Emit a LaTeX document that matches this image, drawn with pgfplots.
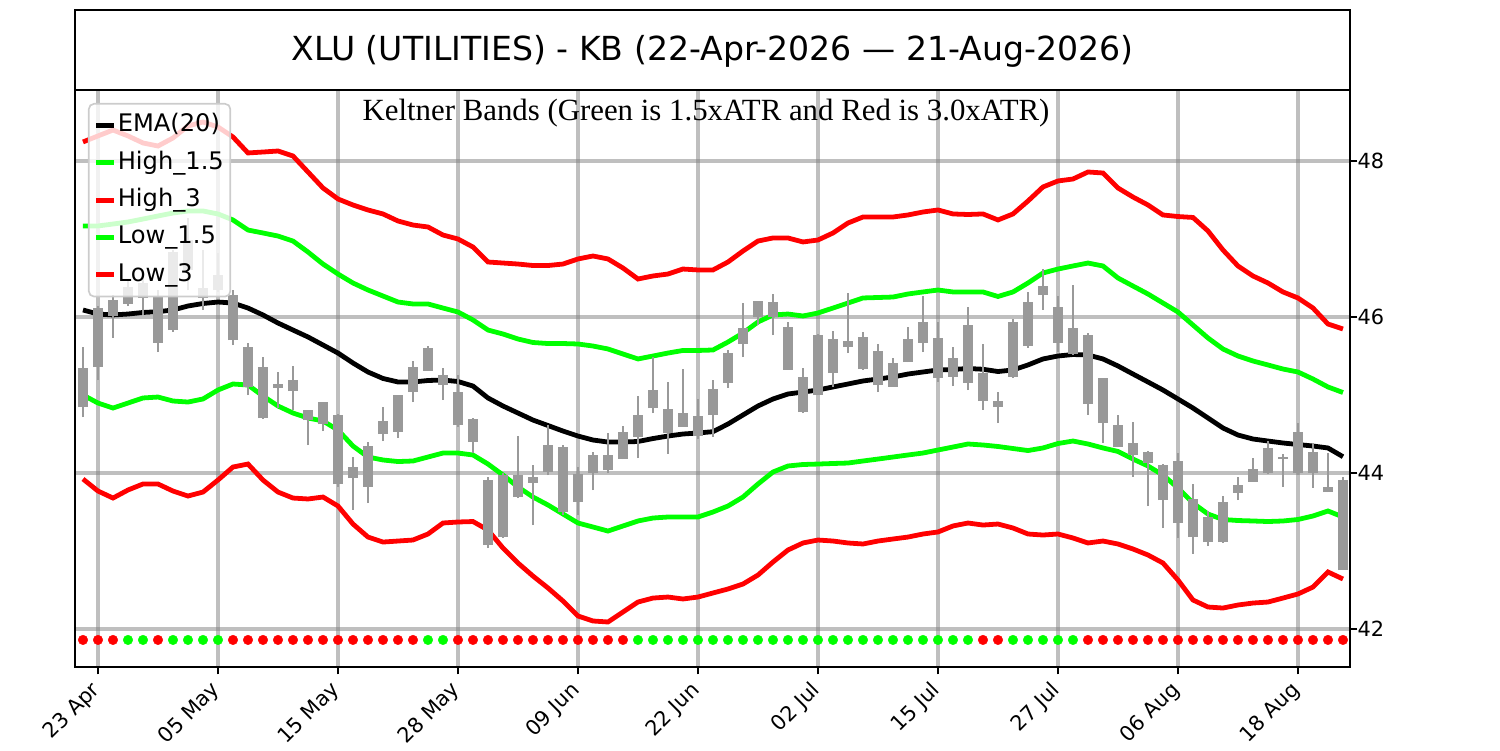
\documentclass[border=0pt]{standalone}
\usepackage{fontspec}
\setmainfont{DejaVu Sans}
\newfontfamily\serifkb{Liberation Serif}
\usepackage{pgfplots}
\usepackage{pgfplotstable}
\pgfplotsset{compat=1.18}
\definecolor{candle}{rgb}{0.6,0.6,0.6}
\definecolor{lime}{rgb}{0,1,0}
\definecolor{redd}{rgb}{1,0,0}

\pgfplotstableread{
i ema h15 h3 l15 l3
0 46.090 47.167 48.244 45.000 43.923
1 46.038 47.167 48.321 44.897 43.769
2 46.026 47.192 48.397 44.833 43.679
3 46.038 47.218 48.321 44.897 43.782
4 46.058 47.256 48.231 44.962 43.859
5 46.068 47.295 48.192 44.974 43.859
6 46.090 47.333 48.295 44.923 43.769
7 46.141 47.359 48.449 44.910 43.705
8 46.173 47.359 48.500 44.949 43.756
9 46.192 47.321 48.436 45.064 43.910
10 46.179 47.244 48.308 45.141 44.077
11 46.115 47.115 48.103 45.128 44.115
12 46.026 47.077 48.115 44.987 43.910
13 45.923 47.038 48.128 44.859 43.756
14 45.833 46.974 48.064 44.769 43.679
15 45.744 46.833 47.859 44.705 43.667
16 45.641 46.679 47.654 44.667 43.692
17 45.538 46.551 47.513 44.551 43.577
18 45.410 46.436 47.436 44.346 43.346
19 45.295 46.346 47.372 44.205 43.179
20 45.212 46.269 47.321 44.167 43.115
21 45.167 46.192 47.231 44.147 43.128
22 45.167 46.167 47.179 44.154 43.141
23 45.186 46.167 47.154 44.205 43.218
24 45.192 46.115 47.051 44.256 43.359
25 45.173 46.064 47.000 44.256 43.372
26 45.115 45.962 46.897 44.231 43.378
27 44.962 45.833 46.705 44.115 43.269
28 44.859 45.782 46.692 43.974 43.038
29 44.769 45.718 46.679 43.821 42.846
30 44.679 45.673 46.660 43.692 42.679
31 44.609 45.660 46.660 43.590 42.526
32 44.538 45.660 46.679 43.474 42.359
33 44.474 45.654 46.744 43.359 42.167
34 44.423 45.628 46.782 43.308 42.103
35 44.397 45.590 46.744 43.256 42.090
36 44.397 45.526 46.628 43.321 42.218
37 44.404 45.462 46.487 43.385 42.346
38 44.442 45.500 46.526 43.423 42.397
39 44.474 45.538 46.551 43.436 42.410
40 44.500 45.571 46.615 43.436 42.385
41 44.513 45.571 46.603 43.436 42.410
42 44.530 45.577 46.603 43.500 42.462
43 44.628 45.679 46.705 43.577 42.513
44 44.744 45.795 46.846 43.692 42.577
45 44.859 45.936 46.974 43.859 42.692
46 44.949 46.026 47.013 44.013 42.859
47 45.013 46.038 47.013 44.090 43.013
48 45.038 46.013 46.962 44.109 43.103
49 45.064 46.051 46.987 44.115 43.141
50 45.103 46.115 47.077 44.122 43.128
51 45.141 46.179 47.205 44.128 43.103
52 45.180 46.244 47.282 44.154 43.090
53 45.205 46.250 47.282 44.179 43.128
54 45.231 46.256 47.282 44.205 43.154
55 45.269 46.295 47.308 44.231 43.179
56 45.295 46.321 47.346 44.256 43.218
57 45.321 46.346 47.372 44.295 43.244
58 45.327 46.321 47.321 44.333 43.321
59 45.340 46.321 47.314 44.372 43.359
60 45.330 46.321 47.321 44.359 43.333
61 45.301 46.263 47.244 44.340 43.346
62 45.321 46.321 47.321 44.314 43.295
63 45.385 46.436 47.487 44.288 43.218
64 45.462 46.564 47.667 44.321 43.205
65 45.500 46.615 47.744 44.378 43.218
66 45.519 46.654 47.769 44.410 43.167
67 45.513 46.692 47.859 44.372 43.103
68 45.462 46.654 47.846 44.321 43.128
69 45.372 46.500 47.654 44.276 43.090
70 45.269 46.397 47.538 44.179 43.026
71 45.167 46.295 47.436 44.090 42.949
72 45.064 46.179 47.308 43.974 42.846
73 44.949 46.064 47.288 43.808 42.628
74 44.833 45.897 47.276 43.615 42.372
75 44.705 45.731 47.103 43.474 42.282
76 44.577 45.590 46.859 43.404 42.269
77 44.487 45.500 46.654 43.391 42.308
78 44.436 45.436 46.526 43.385 42.333
79 44.410 45.385 46.436 43.378 42.346
80 44.385 45.333 46.321 43.385 42.397
81 44.365 45.295 46.244 43.404 42.449
82 44.346 45.205 46.115 43.449 42.538
83 44.321 45.103 45.910 43.513 42.731
84 44.209 45.032 45.846 43.436 42.641
}\bands

\pgfplotstableread{
i lo hi bl bh
0 44.718 45.615 44.846 45.346
1 45.192 46.141 45.359 46.115
2 45.731 46.282 46.013 46.218
3 46.141 46.474 46.167 46.385
4 46.026 46.526 46.244 46.436
5 45.551 46.346 45.667 46.256
6 45.808 46.859 45.833 46.833
7 46.346 47.269 46.603 46.987
8 46.090 46.859 46.244 46.372
9 46.321 46.821 46.346 46.538
10 45.641 46.346 45.705 46.282
11 45.000 45.667 45.103 45.615
12 44.692 45.487 44.705 45.359
13 44.833 45.295 45.090 45.141
14 44.808 45.372 45.051 45.192
15 44.359 44.808 44.679 44.808
16 44.538 44.910 44.628 44.910
17 43.821 44.756 43.859 44.744
18 43.526 44.205 43.936 44.077
19 43.615 44.397 43.821 44.346
20 44.410 44.846 44.500 44.667
21 44.449 45.000 44.526 45.000
22 44.910 45.436 45.038 45.359
23 45.308 45.628 45.308 45.603
24 44.936 45.346 45.128 45.256
25 44.590 45.256 44.615 45.038
26 44.256 44.705 44.397 44.692
27 43.038 43.949 43.077 43.910
28 43.167 44.000 43.179 43.974
29 43.679 44.474 43.692 43.974
30 43.333 44.103 43.872 43.949
31 43.974 44.615 44.013 44.359
32 43.462 44.359 43.500 44.333
33 43.462 44.077 43.628 43.987
34 43.782 44.269 44.000 44.231
35 44.000 44.513 44.038 44.231
36 44.179 44.603 44.179 44.526
37 44.192 44.987 44.462 44.744
38 44.769 45.487 44.833 45.064
39 44.244 45.167 44.513 44.821
40 44.590 45.333 44.590 44.769
41 44.436 44.949 44.474 44.731
42 44.462 45.192 44.744 45.077
43 45.090 45.577 45.154 45.538
44 45.487 46.179 45.654 45.859
45 45.897 46.205 46.000 46.205
46 45.769 46.295 46.000 46.192
47 45.321 45.936 45.321 45.872
48 44.769 45.346 44.782 45.231
49 45.000 45.782 45.000 45.769
50 45.103 45.821 45.282 45.718
51 45.538 46.308 45.615 45.692
52 45.321 45.808 45.333 45.744
53 45.038 45.654 45.128 45.564
54 45.103 45.474 45.103 45.410
55 45.423 45.872 45.423 45.718
56 45.551 46.269 45.667 45.936
57 45.167 45.936 45.218 45.731
58 45.115 45.615 45.231 45.474
59 45.064 46.128 45.154 45.897
60 44.808 45.654 44.923 45.282
61 44.641 45.038 44.846 44.923
62 45.218 45.974 45.231 45.936
63 45.603 46.321 45.628 46.192
64 46.090 46.615 46.282 46.397
65 45.551 46.269 45.667 46.128
66 45.513 46.410 45.526 45.859
67 44.744 45.795 44.885 45.769
68 44.385 45.218 44.641 45.218
69 44.333 44.744 44.333 44.615
70 43.949 44.654 44.231 44.385
71 43.577 44.282 44.128 44.269
72 43.295 44.115 43.654 44.103
73 43.167 44.256 43.359 44.154
74 42.962 43.859 43.179 43.667
75 43.064 43.513 43.115 43.436
76 43.103 43.705 43.115 43.628
77 43.654 43.949 43.744 43.846
78 43.885 44.192 43.885 44.051
79 43.987 44.410 44.000 44.321
80 43.821 44.244 44.179 44.205
81 43.974 44.641 44.000 44.526
82 43.808 44.385 44.000 44.269
83 43.756 44.256 43.756 43.821
84 42.756 43.949 42.756 43.910
}\candles

\begin{document}
\begin{tikzpicture}
\path[use as bounding box] (0,0) rectangle (720pt,360pt);
\begin{axis}[
  at={(36pt,39.84pt)}, anchor=south west,
  width=612pt, height=276.96pt, scale only axis,
  xmin=-0.533, xmax=84.467, ymin=41.513, ymax=48.910,
  xtick={1,9,17,25,33,41,49,57,65,73,81},
  xticklabels={23 Apr,05 May,15 May,28 May,09 Jun,22 Jun,02 Jul,15 Jul,27 Jul,06 Aug,18 Aug},
  ytick={42,44,46,48},
  yticklabel pos=right, ytick pos=right, xtick pos=left,
  tick align=outside, major tick length=3.5pt,
  every tick/.style={black, line width=0.8pt},
  axis line style={black, line width=0.8pt},
  grid=major,
  major grid style={gray, opacity=0.5, line width=1.6pt},
  /pgf/number format/assume math mode=true,
  ticklabel style={font=\fontsize{10}{12}\selectfont},
  xticklabel style={xshift=-4pt, yshift=-2.5pt, rotate=45, anchor=north east, inner sep=0pt},
  yticklabel style={anchor=west, inner sep=0pt},
  legend style={at={(0.0102,0.9775)}, anchor=north west,
    fill=white, fill opacity=0.8, draw opacity=1, text opacity=1,
    draw={rgb,1:red,0.8;green,0.8;blue,0.8}, line width=0.8pt, rounded corners=2.5pt,
    inner xsep=2.5pt, inner ysep=1.5pt, row sep=0pt,
    font=\fontsize{11.6}{13}\selectfont,
    nodes={text height=8.6pt, text depth=2.6pt, inner ysep=3.35pt, inner xsep=0.6pt}},
  legend cell align=left,
  legend image code/.code={\draw[#1, line cap=butt] (0pt,0pt) -- (8.5pt,0pt);},
]
\addplot[black, line width=2.3pt] table[x=i, y=ema] {\bands};
\addlegendentry{EMA(20)}
\addplot[lime, line width=2.3pt] table[x=i, y=h15] {\bands};
\addlegendentry{High\_1.5}
\addplot[redd, line width=2.3pt] table[x=i, y=h3] {\bands};
\addlegendentry{High\_3}
\addplot[lime, line width=2.3pt] table[x=i, y=l15] {\bands};
\addlegendentry{Low\_1.5}
\addplot[redd, line width=2.3pt] table[x=i, y=l3] {\bands};
\addlegendentry{Low\_3}

\addplot[forget plot, draw=none, mark=none,
  error bars/.cd, y dir=plus, y explicit, error mark=none,
  error bar style={line width=1.4pt, draw=candle, solid}]
  table[x=i, y=lo, y error plus expr=\thisrow{hi}-\thisrow{lo}] {\candles};
\addplot[forget plot, draw=none, mark=none,
  error bars/.cd, y dir=plus, y explicit, error mark=none,
  error bar style={line width=4.8pt, draw=candle, solid}]
  table[x=i, y=bl, y error plus expr=\thisrow{bh}-\thisrow{bl}] {\candles};

\addplot[forget plot, redd, only marks, mark=*, mark size=2.3pt, mark options={draw=redd, fill=redd, line width=0.2pt}] coordinates {
(0,41.86) (1,41.86) (2,41.86) (5,41.86) (10,41.86) (11,41.86) (12,41.86) (13,41.86) (14,41.86) (15,41.86) (16,41.86) (17,41.86) (18,41.86) (19,41.86) (20,41.86) (21,41.86) (22,41.86)
(25,41.86) (26,41.86) (27,41.86) (28,41.86) (29,41.86) (30,41.86) (31,41.86) (32,41.86) (33,41.86) (34,41.86) (35,41.86) (36,41.86)
(60,41.86) (61,41.86)
(67,41.86) (68,41.86) (69,41.86) (70,41.86) (71,41.86) (72,41.86) (73,41.86) (74,41.86) (75,41.86) (76,41.86) (77,41.86) (78,41.86) (79,41.86) (80,41.86) (81,41.86) (82,41.86) (83,41.86) (84,41.86)
};
\addplot[forget plot, lime, only marks, mark=*, mark size=2.3pt, mark options={draw=lime, fill=lime, line width=0.2pt}] coordinates {
(3,41.86) (4,41.86) (6,41.86) (7,41.86) (8,41.86) (9,41.86) (23,41.86) (24,41.86)
(37,41.86) (38,41.86) (39,41.86) (40,41.86) (41,41.86) (42,41.86) (43,41.86) (44,41.86) (45,41.86) (46,41.86) (47,41.86) (48,41.86) (49,41.86) (50,41.86) (51,41.86) (52,41.86) (53,41.86) (54,41.86) (55,41.86) (56,41.86) (57,41.86) (58,41.86) (59,41.86)
(62,41.86) (63,41.86) (64,41.86) (65,41.86) (66,41.86)
};
\node[anchor=base, font=\serifkb\fontsize{14.8}{17}\selectfont] at (axis description cs:0.4949,0.948) {Keltner Bands (Green is 1.5xATR and Red is 3.0xATR)};
\end{axis}
\draw[black, line width=0.8pt] (36pt,316.8pt) rectangle (648pt,355.2pt);
\node[anchor=base, font=\fontsize{15.9}{19}\selectfont, inner sep=0pt] at (342pt,331.2pt) {XLU (UTILITIES) - KB (22-Apr-2026 — 21-Aug-2026)};
\end{tikzpicture}
\end{document}
